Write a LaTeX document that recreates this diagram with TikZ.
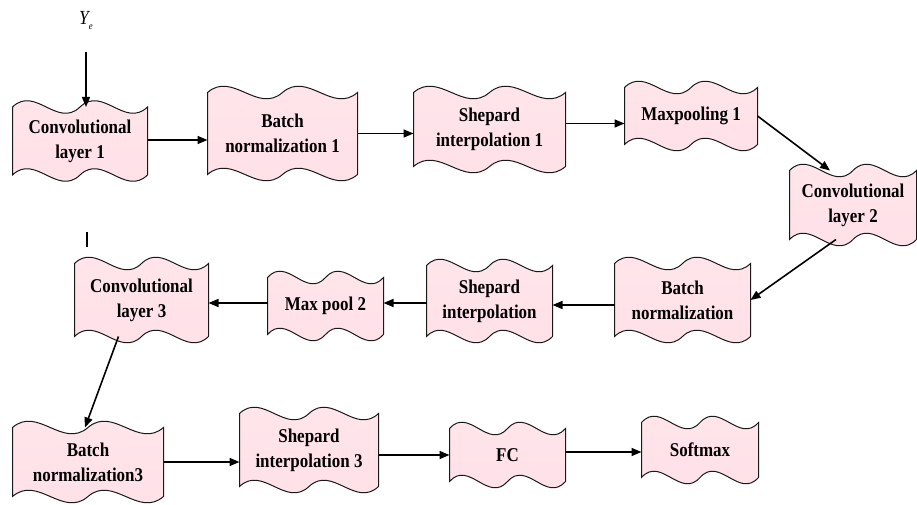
\documentclass[tikz,border=0pt]{standalone}
\usepackage{fontspec}
\setmainfont{Liberation Serif}[FakeStretch=0.87]
\usetikzlibrary{arrows.meta,calc}

\definecolor{stagepink}{RGB}{255,208,219}
\def\wvamp{6.3}

% Box with a double wave along its top and bottom edges
\makeatletter
\pgfdeclareshape{doublewave}{
  \inheritsavedanchors[from=rectangle]
  \inheritanchorborder[from=rectangle]
  \inheritanchor[from=rectangle]{center}
  \inheritanchor[from=rectangle]{north}
  \inheritanchor[from=rectangle]{south}
  \inheritanchor[from=rectangle]{east}
  \inheritanchor[from=rectangle]{west}
  \inheritanchor[from=rectangle]{north east}
  \inheritanchor[from=rectangle]{north west}
  \inheritanchor[from=rectangle]{south east}
  \inheritanchor[from=rectangle]{south west}
  \inheritanchor[from=rectangle]{mid}
  \inheritanchor[from=rectangle]{base}
  \backgroundpath{%
    \southwest \edef\wxa{\the\pgf@x}\edef\wya{\the\pgf@y}%
    \northeast \edef\wxb{\the\pgf@x}\edef\wyb{\the\pgf@y}%
    \pgfmathsetmacro\wq{(\wxb-\wxa)/6}%
    \pgfmathsetmacro\wk{3.46*\wvamp}%
    \pgfpathmoveto{\pgfpoint{\wxa}{\wya}}%
    \pgfpathlineto{\pgfpoint{\wxa}{\wyb}}%
    \pgfpathcurveto{\pgfpoint{\wxa+\wq}{\wyb+\wk}}{\pgfpoint{\wxa+2*\wq}{\wyb-\wk}}{\pgfpoint{\wxa+3*\wq}{\wyb}}%
    \pgfpathcurveto{\pgfpoint{\wxa+4*\wq}{\wyb+\wk}}{\pgfpoint{\wxa+5*\wq}{\wyb-\wk}}{\pgfpoint{\wxb}{\wyb}}%
    \pgfpathlineto{\pgfpoint{\wxb}{\wya}}%
    \pgfpathcurveto{\pgfpoint{\wxb-\wq}{\wya-\wk}}{\pgfpoint{\wxb-2*\wq}{\wya+\wk}}{\pgfpoint{\wxb-3*\wq}{\wya}}%
    \pgfpathcurveto{\pgfpoint{\wxb-4*\wq}{\wya-\wk}}{\pgfpoint{\wxb-5*\wq}{\wya+\wk}}{\pgfpoint{\wxa}{\wya}}%
    \pgfpathclose
  }
}
\makeatother

\tikzset{
  stage/.style={shape=doublewave, draw=black!90, line width=1pt,
    top color=stagepink!55!white, middle color=stagepink, bottom color=stagepink!65!white,
    align=center, inner sep=0pt, font=\bfseries\fontsize{19.5}{25}\selectfont},
  flow/.style={-{Triangle[length=10pt,width=8pt]}, line width=1.6pt},
  plain/.style={line width=1.2pt}
}

\begin{document}
\begin{tikzpicture}[x=1pt,y=-1pt]
\useasboundingbox (0,0) rectangle (917,505);

% input label
\node[font=\fontsize{20}{22}\selectfont] (ye) at (86,21) {\itshape Y\raisebox{-5pt}{\fontsize{10}{11}\selectfont e}};
\coordinate (yin) at (86,52);

% first row
\node[stage, minimum width=134pt, minimum height=67pt] (conv1) at (80,141) {Convolutional\\layer 1};
\node[stage, minimum width=149pt, minimum height=81pt] (bn1) at (282.5,133.5) {Batch\\normalization 1};
\node[stage, minimum width=151pt, minimum height=73pt] (si1) at (489.5,129.5) {Shepard\\interpolation 1};
\node[stage, minimum width=132pt, minimum height=56pt] (mp1) at (691,116) {Maxpooling 1};
\node[stage, minimum width=126pt, minimum height=68pt] (conv2) at (853,205) {Convolutional\\layer 2};

% second row
\node[stage, minimum width=135pt, minimum height=72pt] (bn2) at (682.5,300) {Batch\\normalization};
\node[stage, minimum width=125pt, minimum height=70pt] (si2) at (489.5,301) {Shepard\\interpolation};
\node[stage, minimum width=115pt, minimum height=56pt] (mp2) at (325.5,306) {Max pool 2};
\node[stage, minimum width=133pt, minimum height=72pt] (conv3) at (141.5,300) {Convolutional\\layer 3};

% third row
\node[stage, minimum width=150pt, minimum height=68pt] (bn3) at (88,462) {Batch\\normalization3};
\node[stage, minimum width=138pt, minimum height=72pt] (si3) at (309,450) {Shepard\\interpolation 3};
\node[stage, minimum width=115pt, minimum height=52pt] (fc) at (507.5,455) {FC};
\node[stage, minimum width=116pt, minimum height=54pt] (sm) at (700,450) {Softmax};

% short stray tick
\coordinate (tickA) at (87,232);
\coordinate (tickB) at (87,247);
\draw[plain] (tickA) -- (tickB);

% connectors
\draw[flow] (yin) -- (yin |- conv1.north);
\draw[flow] ($(conv1.east)+(0,-1)$) -- ($(bn1.west |- conv1.east)+(0,-1)$);
\draw[flow] (bn1.east) -- (si1.west |- bn1.east);
\draw[flow] ($(si1.east)+(0,-6)$) -- ($(mp1.west |- si1.east)+(0,-6)$);
\draw[flow] (mp1.east) -- ($(conv2.north)+(-23,0)$);
\draw[flow] ($(conv2.south)+(-17,0)$) -- (bn2.east);
\draw[flow] ($(bn2.west)+(0,5)$) -- ($(si2.east |- bn2.west)+(0,5)$);
\draw[flow] ($(si2.west)+(0,2)$) -- ($(mp2.east |- si2.west)+(0,2)$);
\draw[flow] ($(mp2.west)+(0,-3)$) -- ($(conv3.east |- mp2.west)+(0,-3)$);
\draw[flow] ($(conv3.south)+(-23,0)$) -- ($(bn3.north)+(-3,0)$);
\draw[flow] (bn3.east) -- (si3.west |- bn3.east);
\draw[flow] ($(si3.east)+(0,5)$) -- ($(fc.west |- si3.east)+(0,5)$);
\draw[flow] ($(fc.east)+(0,-3)$) -- ($(sm.west |- fc.east)+(0,-3)$);
\end{tikzpicture}
\end{document}
